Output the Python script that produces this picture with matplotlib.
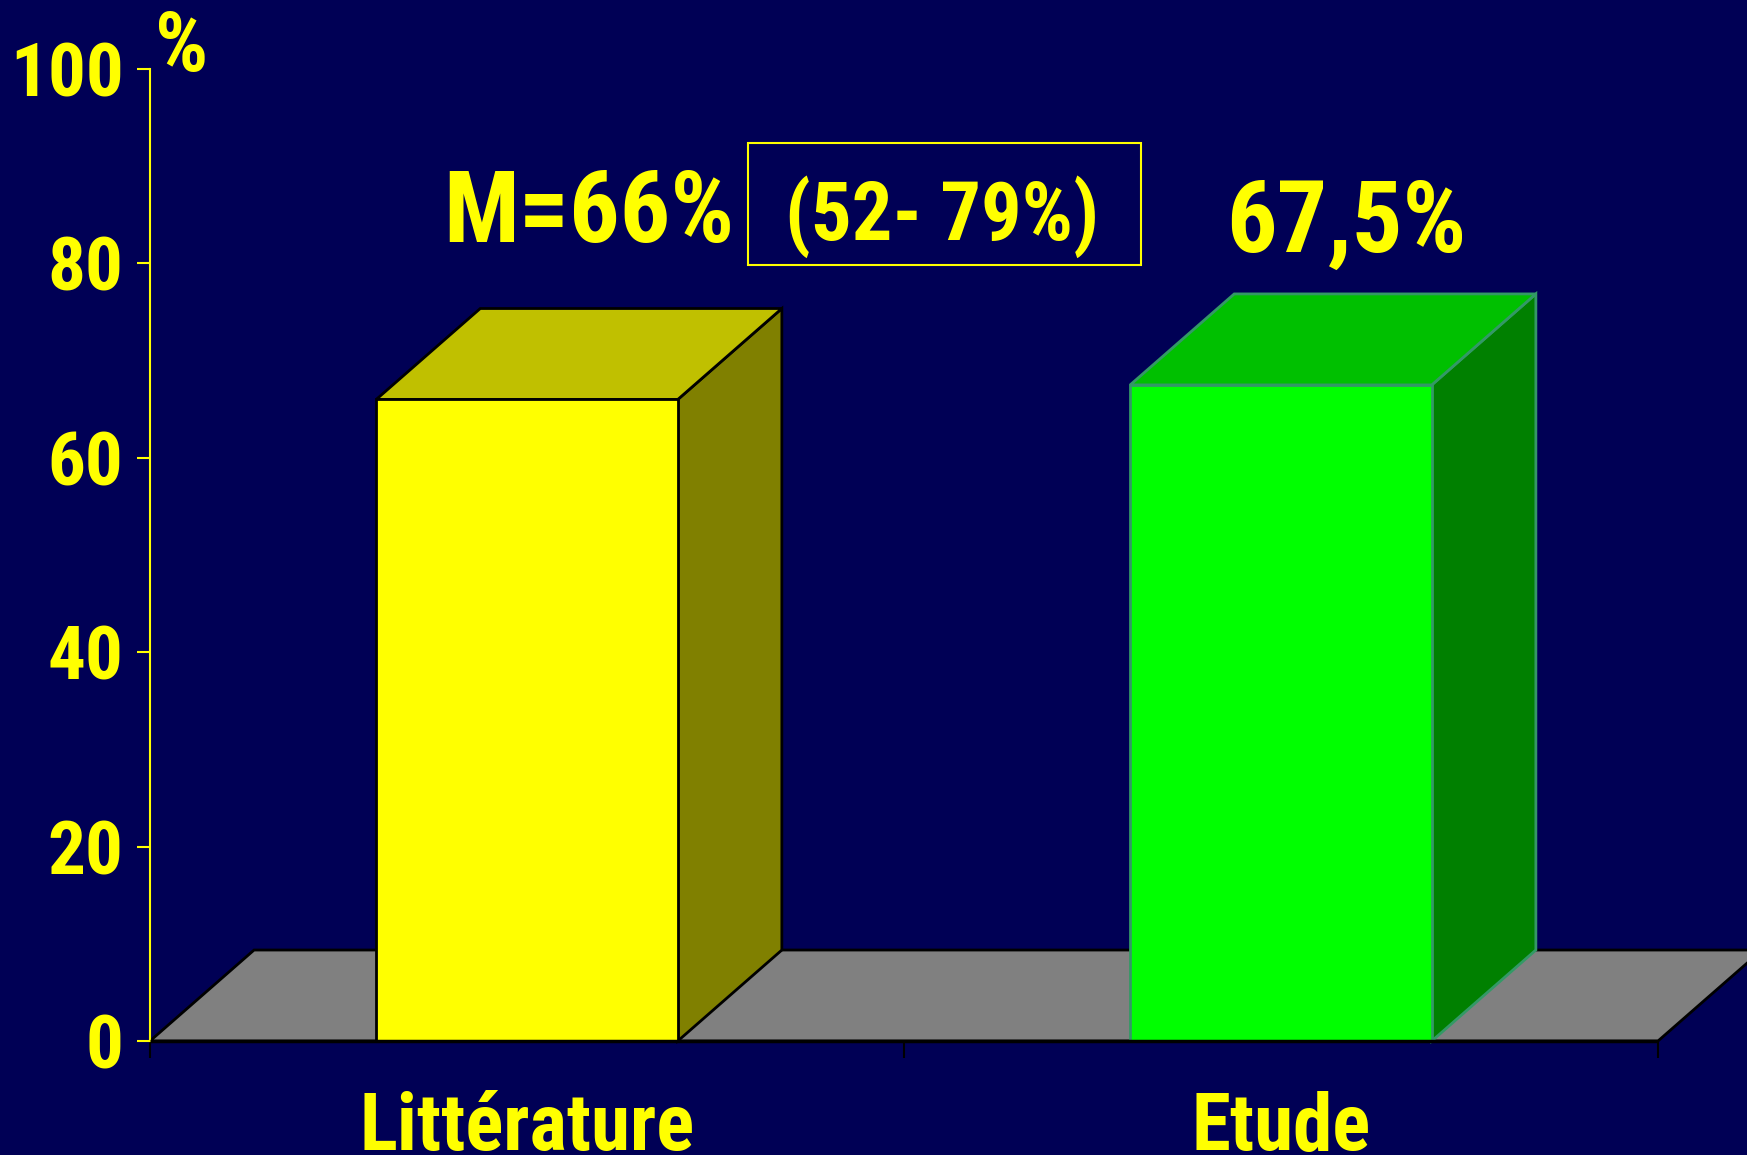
import matplotlib
matplotlib.use("Agg")
import matplotlib.pyplot as plt
from matplotlib import font_manager as fm
from matplotlib.patches import Polygon, Rectangle

# Data
categories = ["Littérature", "Etude"]
values = [66, 67.5]
lit_range = (52, 79)
y_ticks = [0, 20, 40, 60, 80, 100]

# Styling
BG = "#000055"
YEL = "#FFFF00"
face_colors = ["#FFFF00", "#00FF00"]
top_colors = ["#C0C000", "#00C000"]
side_colors = ["#808000", "#008000"]
edge_colors = ["#000000", "#339966"]

# pick a narrow bold sans face
_bold = {f.name for f in fm.fontManager.ttflist
         if (f.weight if isinstance(f.weight, int) else 400) >= 700}
_cands = ["Arial Narrow", "Liberation Sans Narrow", "Roboto Condensed",
          "Archivo Narrow", "PT Sans Narrow", "Open Sans Condensed"]
narrow = next((c for c in _cands if c in _bold), "Liberation Sans")
FONT = [narrow, "DejaVu Sans"]

W, H = 1747, 1155
fig = plt.figure(figsize=(W / 100, H / 100), dpi=100, facecolor=BG)
ax = fig.add_axes([150 / W, 114 / H, 1508 / W, 972 / H])
ax.set_facecolor(BG)
ax.patch.set_alpha(0)
ax.set_xlim(0, len(categories))
ax.set_ylim(0, 100)

# 3D depth offsets (category units / value units)
dx, dy = 0.138, 9.36
bar_w = 0.4

# floor
n = len(categories)
floor = Polygon([(0, 0), (n, 0), (n + dx, dy), (dx, dy)], closed=True,
                facecolor="#808080", edgecolor="black", linewidth=2,
                clip_on=False, zorder=1)
ax.add_patch(floor)

for i, v in enumerate(values):
    x0 = i + 0.5 - bar_w / 2
    x1 = i + 0.5 + bar_w / 2
    ec = edge_colors[i]
    side = Polygon([(x1, 0), (x1 + dx, dy), (x1 + dx, v + dy), (x1, v)],
                   facecolor=side_colors[i], edgecolor=ec, linewidth=2,
                   clip_on=False, zorder=3)
    top = Polygon([(x0, v), (x1, v), (x1 + dx, v + dy), (x0 + dx, v + dy)],
                  facecolor=top_colors[i], edgecolor=ec, linewidth=2,
                  clip_on=False, zorder=3)
    front = Rectangle((x0, 0), bar_w, v, facecolor=face_colors[i],
                      edgecolor=ec, linewidth=2, clip_on=False, zorder=4)
    ax.add_patch(side)
    ax.add_patch(top)
    ax.add_patch(front)

# floor front edge on top
ax.plot([0, n], [0, 0], color="black", linewidth=2.5, zorder=5,
        clip_on=False, solid_capstyle="butt")

# axes styling
for s in ["top", "right", "bottom"]:
    ax.spines[s].set_visible(False)
ax.spines["left"].set_color(YEL)
ax.spines["left"].set_linewidth(1.5)
ax.spines["left"].set_bounds(0, 100)
ax.set_yticks(y_ticks)
ax.set_yticklabels([str(t) for t in y_ticks], fontfamily=FONT,
                   fontweight="bold", fontsize=54, color=YEL)
ax.tick_params(axis="y", colors=YEL, length=9.5, width=1.5, pad=9.5)
ax.set_xticks(range(n + 1))
ax.set_xticklabels([""] * (n + 1))
ax.tick_params(axis="x", colors="black", length=12, width=1.5)

# category labels
xt = ax.get_xaxis_transform()
for i, c in enumerate(categories):
    ax.text(i + 0.5, -0.112, c, transform=xt, ha="center", va="baseline",
            fontfamily=FONT, fontweight="bold", fontsize=57, color=YEL)

# unit label
ax.text(0.006, 99.8, "%", ha="left", va="baseline", fontfamily=FONT,
        fontweight="bold", fontsize=60, color=YEL, clip_on=False)

# annotations
ax.text(0.389, 82.25, f"M={values[0]:g}%", ha="left", va="baseline",
        fontfamily=FONT, fontweight="bold", fontsize=72, color=YEL)
ax.text(1.05, 82.4, f"({lit_range[0]}- {lit_range[1]}%)", ha="center",
        va="baseline", fontfamily=FONT, fontweight="bold", fontsize=58,
        color=YEL)
ax.add_patch(Rectangle((0.793, 79.8), 0.521, 12.6, fill=False,
                       edgecolor=YEL, linewidth=1.5, clip_on=False))
ax.text(1.586, 81.2, f"{values[1]:g}%".replace(".", ","), ha="center",
        va="baseline", fontfamily=FONT, fontweight="bold", fontsize=72,
        color=YEL)

fig.savefig("out.png", dpi=100, facecolor=BG)
